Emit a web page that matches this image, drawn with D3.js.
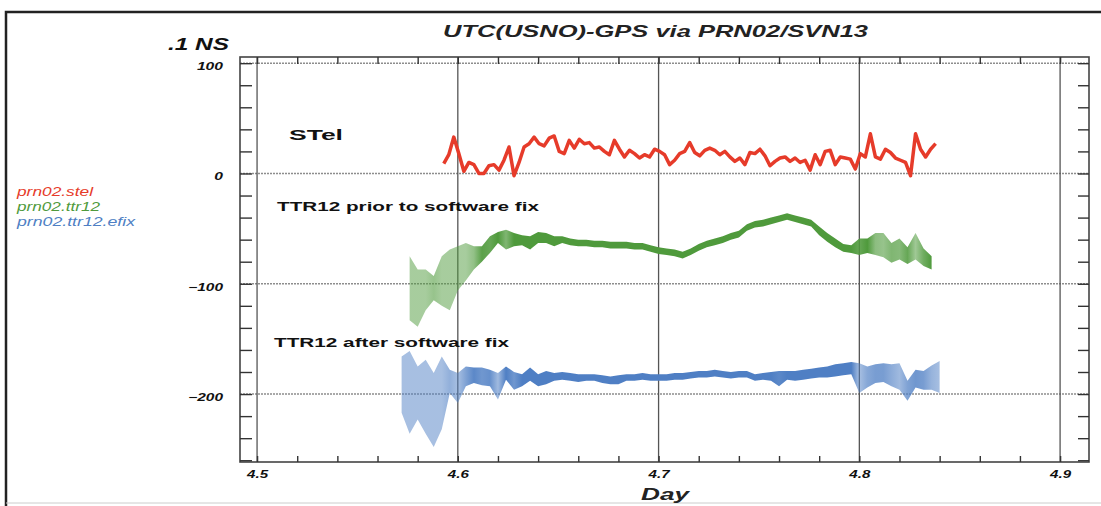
<!DOCTYPE html>
<html><head><meta charset="utf-8">
<script src="https://cdn.jsdelivr.net/npm/d3@7"></script>
<style>
body{margin:0;background:#fff;}
svg{display:block;}
text{font-family:"Liberation Sans",Arial,sans-serif;}
</style></head><body>
<svg id="c" width="1101" height="506"></svg>
<script>
// ---- data ----
const titleText = "UTC(USNO)-GPS via PRN02/SVN13";
const yUnitText = ".1 NS";
const xTitleText = "Day";
const xTickValues = [4.5, 4.6, 4.7, 4.8, 4.9];
const xTickLabels = ["4.5", "4.6", "4.7", "4.8", "4.9"];
const yTickValues = [100, 0, -100, -200];
const yTickLabels = ["100", "0", "\u2212100", "\u2212200"];
const seriesNames = ["prn02.stel", "prn02.ttr12", "prn02.ttr12.efix"];
const annotations = ["STel", "TTR12 prior to software fix", "TTR12 after software fix"];

const stelStart = 4.593, stelStep = 0.0025;
const stelValues = [9,17,33,18,2,10,8,0,0,7,8,3,12,24,-2,10,24,27,33,27,25,32,34,20,18,30,23,31,27,28,
  23,24,20,17,30,22,15,21,18,14,17,15,22,20,17,8,12,18,20,28,19,16,21,23,21,17,20,15,11,14,
  8,19,18,22,16,7,11,14,15,11,14,10,12,3,17,8,20,21,8,15,14,13,4,18,15,36,15,13,22,19,
  14,12,10,-2,36,22,15,22,27];

const ttr12Start = 4.576, ttr12Step = 0.004;
const ttr12Low = [-133,-139,-124,-115,-120,-124,-106,-97,-87,-80,-72,-63,-69,-66,-65,-69,-63,-63,-66,-63,
  -65,-66,-66,-67,-67,-68,-68,-68,-69,-69,-71,-73,-74,-75,-77,-74,-70,-67,-65,-63,
  -60,-58,-52,-49,-48,-46,-44,-42,-44,-46,-48,-56,-62,-67,-71,-72,-74,-72,-74,-76,
  -81,-78,-82,-78,-84,-87];
const ttr12High = [-75,-87,-87,-93,-75,-69,-66,-63,-66,-66,-57,-53,-51,-54,-56,-57,-53,-54,-57,-57,
  -59,-60,-60,-61,-61,-62,-62,-62,-63,-63,-65,-67,-68,-69,-71,-68,-64,-61,-59,-57,
  -54,-52,-46,-43,-42,-40,-38,-36,-38,-40,-42,-48,-54,-59,-64,-65,-59,-59,-54,-54,
  -63,-59,-67,-54,-68,-75];

const efixStart = 4.572, efixStep = 0.004;
const efixLow = [-217,-236,-223,-236,-248,-232,-199,-208,-193,-190,-192,-193,-205,-187,-196,-193,-188,-193,-191,-188,
  -187,-188,-189,-188,-188,-190,-191,-191,-188,-188,-187,-188,-188,-188,-187,-187,-186,-185,-185,-184,
  -185,-186,-185,-185,-188,-187,-188,-193,-187,-188,-187,-186,-185,-185,-184,-183,-182,-199,-194,-190,
  -189,-193,-196,-206,-194,-196,-196,-199];
const efixHigh = [-166,-161,-175,-169,-181,-166,-178,-181,-175,-176,-176,-178,-181,-175,-180,-182,-176,-182,-179,-181,
  -180,-181,-182,-182,-182,-183,-184,-183,-182,-182,-181,-182,-182,-182,-181,-181,-180,-179,-179,-178,
  -179,-180,-179,-179,-182,-181,-180,-179,-179,-179,-178,-177,-176,-175,-173,-172,-171,-172,-175,-173,
  -172,-173,-172,-188,-178,-179,-174,-170];

const colors = ["#e63b2a", "#4f9a3c", "#4f7fc4"];

// ---- chart ----
const svg = d3.select("#c");
const defs = svg.append("defs");
const x = d3.scaleLinear().domain([4.4915, 4.9144]).range([240, 1089]);
const y = d3.scaleLinear().domain([-261.6, 105.6]).range([462, 57]);
const [x0, x1] = x.range(), [y0, y1] = [y.range()[1], y.range()[0]];

// page border
svg.append("path").attr("d", `M6,506V12H1101`).attr("fill", "none").attr("stroke", "#222").attr("stroke-width", 2.5);
svg.append("line").attr("x1", 6).attr("x2", 1101).attr("y1", 503).attr("y2", 503)
  .attr("stroke", "#ccc").attr("stroke-width", 1);

// gridlines
svg.append("g").selectAll("line").data(yTickValues).join("line")
  .attr("x1", x0).attr("x2", x1).attr("y1", d => y(d)).attr("y2", d => y(d))
  .attr("stroke", "#8d8d8d").attr("stroke-width", 1.5).attr("stroke-dasharray", "2,1");
svg.append("g").selectAll("line").data(xTickValues).join("line")
  .attr("x1", d => x(d)).attr("x2", d => x(d)).attr("y1", y0).attr("y2", y1)
  .attr("stroke", "#555").attr("stroke-width", 1.3);

// bands (opacity follows local spread through a horizontal gradient)
function band(id, start, step, lo, hi, color) {
  const pts = lo.map((l, i) => ({t: start + i * step, lo: l, hi: hi[i]}));
  const xa = x(pts[0].t), xb = x(pts[pts.length - 1].t);
  const grad = defs.append("linearGradient").attr("id", id).attr("gradientUnits", "userSpaceOnUse")
    .attr("x1", xa).attr("x2", xb).attr("y1", 0).attr("y2", 0);
  grad.selectAll("stop").data(pts).join("stop")
    .attr("offset", d => (x(d.t) - xa) / (xb - xa))
    .attr("stop-color", color)
    .attr("stop-opacity", d => Math.max(0.5, Math.min(1, 13 / (d.hi - d.lo))));
  const area = d3.area().x(d => x(d.t)).y0(d => y(d.lo)).y1(d => y(d.hi));
  svg.append("path").attr("d", area(pts)).attr("fill", `url(#${id})`);
}
band("gTtr", ttr12Start, ttr12Step, ttr12Low, ttr12High, colors[1]);
band("gEfix", efixStart, efixStep, efixLow, efixHigh, colors[2]);

const stelPts = stelValues.map((v, i) => [stelStart + i * stelStep, v]);
svg.append("path").attr("d", d3.line().x(d => x(d[0])).y(d => y(d[1]))(stelPts))
  .attr("fill", "none").attr("stroke", colors[0]).attr("stroke-width", 3.5).attr("stroke-linejoin", "round");

// frame
svg.append("rect").attr("x", x0).attr("y", y0).attr("width", x1 - x0).attr("height", y1 - y0)
  .attr("fill", "none").attr("stroke", "#444").attr("stroke-width", 1.6);

// minor ticks
const xMinor = d3.range(4.5, 4.9001, 0.02);
const yMinor = d3.range(-260, 100.1, 20);
function styleTicks(g) {
  g.select(".domain").remove();
  g.selectAll("line").attr("stroke", "#333").attr("stroke-width", 1.4);
}
svg.append("g").attr("transform", `translate(${x0},0)`).call(d3.axisRight(y).tickValues(yMinor).tickSize(12).tickFormat("")).call(styleTicks);
svg.append("g").attr("transform", `translate(${x1},0)`).call(d3.axisLeft(y).tickValues(yMinor).tickSize(11).tickFormat("")).call(styleTicks);
svg.append("g").attr("transform", `translate(0,${y1})`).call(d3.axisTop(x).tickValues(xMinor).tickSize(6).tickFormat("")).call(styleTicks);
svg.append("g").attr("transform", `translate(0,${y0})`).call(d3.axisBottom(x).tickValues(xMinor).tickSize(7).tickFormat("")).call(styleTicks);

// tick labels
const yl = svg.append("g").attr("transform", `translate(${x0},0)`)
  .call(d3.axisLeft(y).tickValues(yTickValues).tickSize(0).tickPadding(17).tickFormat((d, i) => yTickLabels[i]));
yl.select(".domain").remove();
yl.selectAll("text").attr("font-size", 10.5).attr("font-weight", "bold").attr("font-style", "italic")
  .attr("fill", "#111").attr("dy", "0.62em").attr("font-family", "Liberation Sans, Arial, sans-serif")
  .attr("textLength", (d, i) => yTickLabels[i].length * 8.7).attr("lengthAdjust", "spacingAndGlyphs");

const xl = svg.append("g").attr("transform", `translate(0,${y1})`)
  .call(d3.axisBottom(x).tickValues(xTickValues).tickSize(0).tickPadding(9).tickFormat((d, i) => xTickLabels[i]));
xl.select(".domain").remove();
xl.selectAll("text").attr("font-size", 10.5).attr("font-weight", "bold").attr("font-style", "italic")
  .attr("fill", "#111").attr("font-family", "Liberation Sans, Arial, sans-serif")
  .attr("textLength", 21).attr("lengthAdjust", "spacingAndGlyphs");

// titles
function txt(s, px, py, size, opts) {
  const t = svg.append("text").text(s).attr("x", px).attr("y", py).attr("font-size", size)
    .attr("fill", opts.fill || "#111").attr("font-weight", opts.bold ? "bold" : "normal")
    .attr("font-style", opts.italic ? "italic" : "normal");
  if (opts.len) t.attr("textLength", opts.len).attr("lengthAdjust", "spacingAndGlyphs");
  return t;
}
txt(titleText, 443, 37, 17, {bold: true, italic: true, len: 425, fill: "#222"});
txt(yUnitText, 168, 50, 16, {bold: true, italic: true, len: 61});
txt(xTitleText, 641, 500, 17, {bold: true, italic: true, len: 48, fill: "#222"});
txt(annotations[0], 289, 140, 15, {bold: true, len: 54});
txt(annotations[1], 277, 211, 13.5, {bold: true, len: 262});
txt(annotations[2], 274, 347, 13.5, {bold: true, len: 235});

// legend
const legLens = [76, 83, 118];
seriesNames.forEach((s, i) => {
  txt(s, 17, 196 + i * 15, 12, {italic: true, fill: colors[i], len: legLens[i]});
});
</script>
</body></html>
